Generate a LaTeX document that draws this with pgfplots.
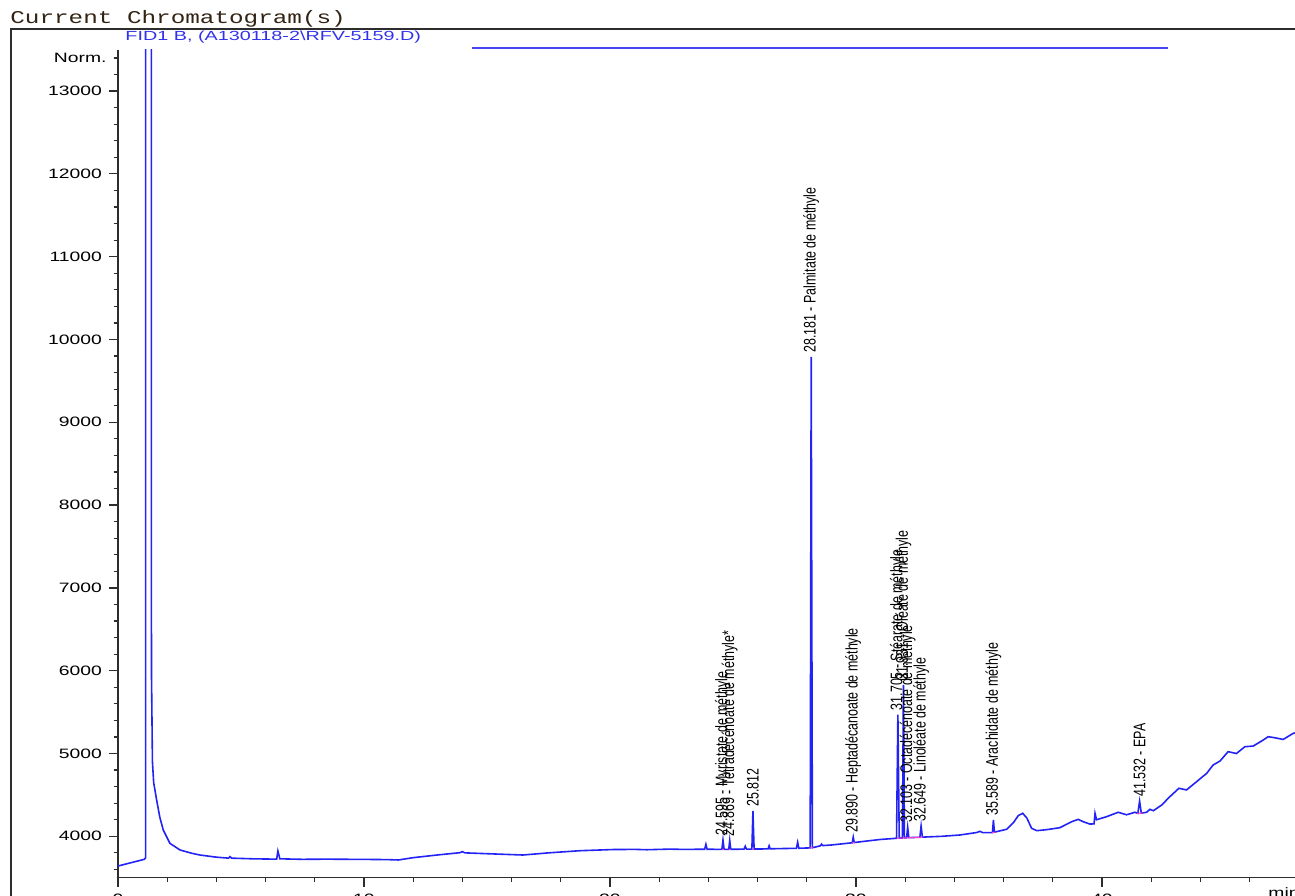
\documentclass[border=0pt]{standalone}
\usepackage{pgfplots}
\pgfplotsset{compat=1.18}
\usepackage{fontspec}
\setmainfont{Liberation Sans}
\newfontfamily\tickfont[FakeStretch=1.42]{Liberation Sans}
\newfontfamily\rotfont[FakeStretch=0.74]{Liberation Sans}
\newfontfamily\headfont[FakeStretch=1.35]{Liberation Mono}
\newfontfamily\fidfont[FakeStretch=1.5]{Liberation Sans}
\definecolor{trace}{RGB}{35,35,245}
\definecolor{axisgray}{RGB}{45,45,45}
\definecolor{headcol}{RGB}{50,35,20}
\definecolor{fidblue}{RGB}{50,50,235}
\definecolor{legblue}{RGB}{70,70,240}
\definecolor{basepink}{RGB}{255,60,200}
\begin{document}
\begin{tikzpicture}
% cadre et textes d'en-tete (coordonnees en pixels de l'image)
\begin{scope}[shift={(0pt,447.5pt)}, x=0.5pt, y=-0.5pt]
  \draw[axisgray, line width=0.8pt] (11,900) -- (11,29) -- (1300,29);
  \node[anchor=base west, inner sep=0pt, text=headcol,
        font={\headfont\fontsize{9}{10}\selectfont}] at (10,24) {Current Chromatogram(s)};
  \node[anchor=base west, inner sep=0pt, text=fidblue,
        font={\fidfont\fontsize{6.6}{7}\selectfont}] at (125,41) {FID1 B, (A130118-2\textbackslash RFV-5159.D)};
  \draw[legblue, line width=0.65pt] (472,48) -- (1168,48);
  \node[anchor=north west, inner sep=0pt,
        font={\tickfont\fontsize{6.8}{7}\selectfont}] at (1268,887) {min};
\end{scope}

\begin{axis}[
    at={(59pt,8.65pt)}, anchor=south west,
    scale only axis, width=588.5pt, height=414pt,
    xmin=0, xmax=47.85,
    ymin=3500, ymax=13500,
    axis x line=bottom, axis y line=left,
    axis line style={-, line width=0.75pt, color=axisgray},
    xtick={0,10,20,30,40},
    minor xtick={2,4,...,46},
    ytick={4000,5000,...,13000},
    minor ytick={3600,3800,...,13400},
    extra y ticks={13400},
    extra y tick labels={Norm.},
    extra y tick style={major tick length=2.2pt},
    tick align=outside,
    major tick length=4.5pt, minor tick length=2.2pt,
    tick style={line width=0.6pt, color=axisgray},
    scaled y ticks=false,
    /pgf/number format/1000 sep={},
    /pgf/number format/assume math mode=true,
    ticklabel style={font={\tickfont\fontsize{6.8}{7}\selectfont}, text=black},
  ]

% signal FID
\addplot[trace, line width=0.8pt] coordinates {
  (0,3641) (1.07,3722) (1.12,3740) (1.16,80000) (1.33,80000) (1.36,6000)
  (1.40,4900) (1.45,4650) (1.57,4440) (1.70,4230) (1.84,4076) (2.11,3915)
  (2.52,3835) (3.00,3795) (3.33,3774) (4.00,3748) (4.50,3736) (4.55,3755)
  (4.62,3736) (5.50,3728) (6.45,3724) (6.50,3822) (6.58,3728) (7.50,3722)
  (8.50,3724) (9.50,3722) (10.50,3720) (11.00,3718) (11.40,3714) (12.00,3742)
  (13.00,3775) (13.90,3802) (14.00,3815) (14.10,3800) (15.00,3790) (16.46,3774)
  (17.50,3800) (18.78,3826) (20.10,3840) (21.00,3842) (21.50,3838) (22.40,3845)
  (23.00,3842) (23.85,3844) (23.90,3903) (23.95,3844) (24.55,3842) (24.595,3955)
  (24.64,3842) (24.83,3843) (24.869,3950) (24.91,3843) (25.45,3845) (25.50,3880)
  (25.55,3845) (25.77,3846) (25.812,4306) (25.86,3846) (26.43,3848) (26.47,3885)
  (26.51,3849) (27.00,3852) (27.58,3855) (27.63,3928) (27.68,3856) (28.14,3860)
  (28.181,9790) (28.23,3862) (28.55,3885) (28.60,3905) (28.65,3888) (29.00,3895)
  (29.85,3922) (29.89,3990) (29.93,3925) (30.50,3945) (31.00,3962) (31.65,3976)
  (31.705,5470) (31.76,3978) (31.89,3980) (31.931,5830) (31.97,3982) (32.06,3983)
  (32.103,4110) (32.15,3984) (32.60,3988) (32.649,4125) (32.70,3990) (33.50,4000)
  (34.23,4016) (34.90,4045) (35.04,4060) (35.15,4045) (35.55,4044) (35.589,4197)
  (35.63,4050) (36.13,4085) (36.40,4164) (36.60,4250) (36.78,4278) (36.95,4220)
  (37.14,4097) (37.35,4068) (37.75,4080) (38.29,4104) (38.77,4176) (39.04,4205)
  (39.24,4176) (39.51,4148) (39.68,4150) (39.72,4278) (39.78,4200) (40.19,4237)
  (40.66,4290) (41.00,4260) (41.34,4290) (41.46,4278) (41.532,4425) (41.60,4280)
  (41.82,4290) (41.95,4326) (42.09,4309) (42.43,4378) (42.76,4478) (43.13,4580)
  (43.44,4560) (43.85,4660) (44.26,4761) (44.52,4861) (44.80,4909) (45.13,5022)
  (45.47,5000) (45.81,5082) (46.15,5090) (46.56,5163) (46.76,5203) (47.03,5190)
  (47.37,5170) (47.78,5244) (47.90,5250)
};

% lignes de base d'integration
\addplot[basepink, line width=0.5pt, unbounded coords=jump] coordinates {
  (24.55,3842) (24.64,3842) (24.7,nan)
  (24.83,3843) (24.91,3843) (25.0,nan)
  (25.77,3846) (25.86,3846) (25.9,nan)
  (28.12,3860) (28.25,3862) (28.3,nan)
  (29.84,3921) (29.95,3925) (30.0,nan)
  (31.65,3976) (32.72,3990) (32.8,nan)
  (35.53,4044) (35.66,4050) (35.7,nan)
  (41.42,4276) (41.66,4282)
};

% etiquettes des pics
\addplot[draw=none, mark=none, nodes near coords, point meta=explicit symbolic,
  nodes near coords style={font={\rotfont\fontsize{8.4}{9}\selectfont}, text=black,
    rotate=90, anchor=west, inner xsep=2pt, inner ysep=0pt}] coordinates {
  (24.595,3955) [24.595 - Myristate de méthyle]
  (24.869,3950) [24.869 - Tétradécénoate de méthyle*]
  (25.812,4306) [25.812]
  (28.181,9790) [28.181 - Palmitate de méthyle]
  (29.890,3990) [29.890 - Heptadécanoate de méthyle]
  (31.705,5470) [31.705 - Stéarate de méthyle]
  (31.931,5830) [31.931 - Oléate de méthyle]
  (32.103,4110) [32.103 - Octadécénoate de méthyle]
  (32.649,4125) [32.649 - Linoléate de méthyle]
  (35.589,4197) [35.589 - Arachidate de méthyle]
  (41.532,4425) [41.532 - EPA]
};
\end{axis}

\pgfresetboundingbox
\path[use as bounding box] (0,0) rectangle (647.5pt,447.5pt);
\end{tikzpicture}
\end{document}
